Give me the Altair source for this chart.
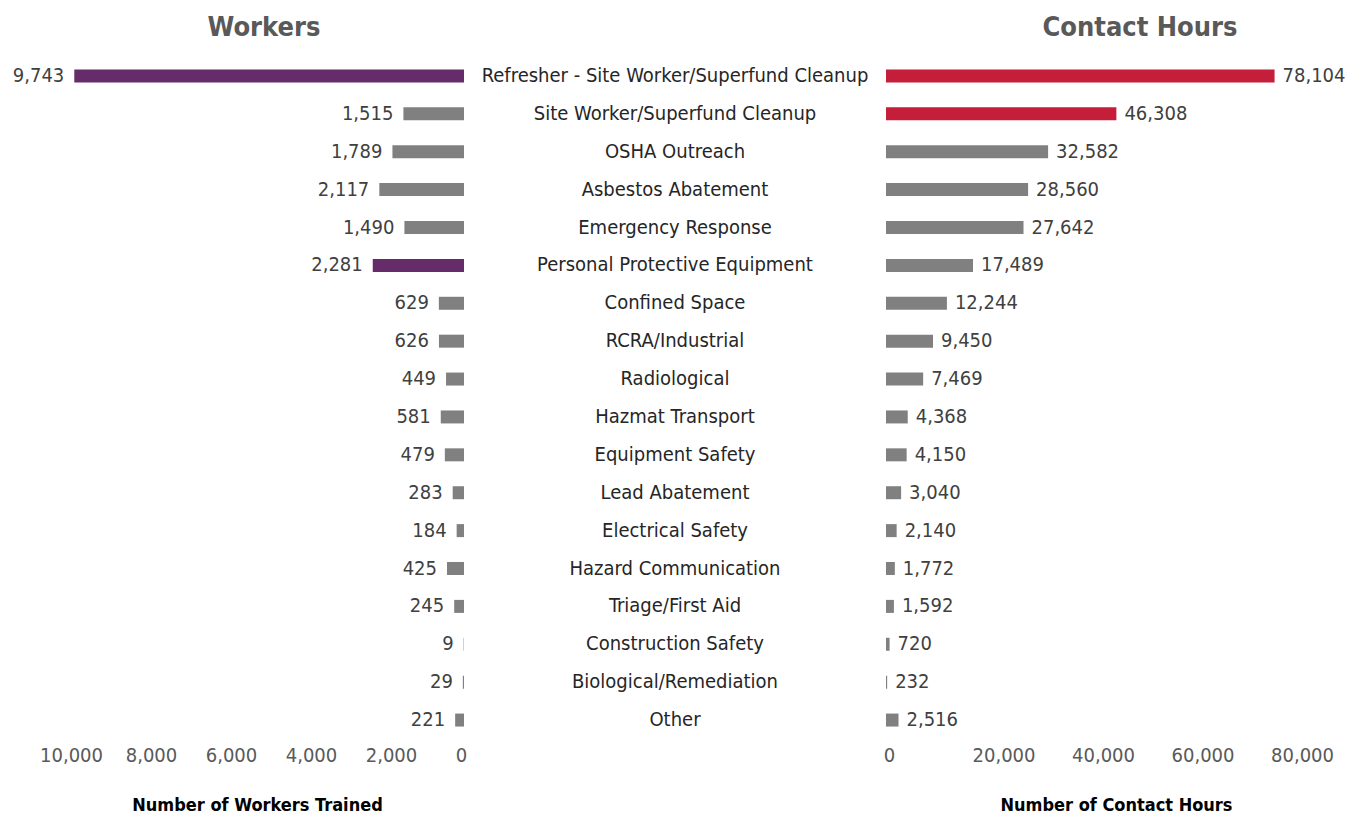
import altair as alt
import pandas as pd

categories = [
    "Refresher - Site Worker/Superfund Cleanup",
    "Site Worker/Superfund Cleanup",
    "OSHA Outreach",
    "Asbestos Abatement",
    "Emergency Response",
    "Personal Protective Equipment",
    "Confined Space",
    "RCRA/Industrial",
    "Radiological",
    "Hazmat Transport",
    "Equipment Safety",
    "Lead Abatement",
    "Electrical Safety",
    "Hazard Communication",
    "Triage/First Aid",
    "Construction Safety",
    "Biological/Remediation",
    "Other",
]
workers = [9743, 1515, 1789, 2117, 1490, 2281, 629, 626, 449, 581, 479, 283, 184, 425, 245, 9, 29, 221]
hours = [78104, 46308, 32582, 28560, 27642, 17489, 12244, 9450, 7469, 4368, 4150, 3040, 2140, 1772, 1592, 720, 232, 2516]
worker_highlight = ["yes", "no", "no", "no", "no", "yes"] + ["no"] * 12
hour_highlight = ["yes", "yes"] + ["no"] * 16
worker_ticks = [0, 2000, 4000, 6000, 8000, 10000]
hour_ticks = [0, 20000, 40000, 60000, 80000]

df = pd.DataFrame({
    "category": categories,
    "workers": workers,
    "hours": hours,
    "wh": worker_highlight,
    "hh": hour_highlight,
})

FONT = "DejaVu Sans Condensed"
FS = 20
H = 682
BAR = 13

yenc = alt.Y("category:N", sort=categories, axis=None)

left_base = alt.Chart(df).encode(
    y=yenc,
    x=alt.X(
        "workers:Q",
        scale=alt.Scale(domain=[0, 10000], reverse=True),
        axis=alt.Axis(
            values=worker_ticks, format=",.0f", grid=False, ticks=False, domain=False,
            labelOverlap=False, labelFlush=False,
            labelOffset={"condition": {"test": "datum.value == 0", "value": -3}, "value": 7},
            title="Number of Workers Trained", labelFont=FONT, labelFontSize=FS,
            labelColor="#595959", titleFont=FONT, titleFontSize=18, titleFontWeight="bold",
            titleColor="#000000", labelPadding=6, titlePadding=31, titleX=193,
        ),
    ),
)
left_bars = left_base.mark_bar(size=BAR).encode(
    color=alt.Color("wh:N", scale=alt.Scale(domain=["yes", "no"], range=["#662C69", "#808080"]), legend=None)
)
left_text = left_base.mark_text(align="right", dx=-10, font=FONT, fontSize=FS, color="#404040").encode(
    text=alt.Text("workers:Q", format=",")
)
left = (left_bars + left_text).properties(
    width=400, height=H,
    title=alt.TitleParams("Workers", font=FONT, fontSize=27, fontWeight="bold", color="#595959", anchor="middle", offset=15),
)

mid = alt.Chart(df).mark_text(align="center", font=FONT, fontSize=FS, color="#262626").encode(
    y=yenc, x=alt.value(211), text="category:N"
).properties(width=422, height=H)

right_base = alt.Chart(df).encode(
    y=yenc,
    x=alt.X(
        "hours:Q",
        scale=alt.Scale(domain=[0, 80000]),
        axis=alt.Axis(
            values=hour_ticks, format=",.0f", grid=False, ticks=False, domain=False,
            labelOverlap=False, labelFlush=False,
            labelOffset={"condition": {"test": "datum.value == 0", "value": 3}, "value": 18},
            title="Number of Contact Hours", labelFont=FONT, labelFontSize=FS,
            labelColor="#595959", titleFont=FONT, titleFontSize=18, titleFontWeight="bold",
            titleColor="#000000", labelPadding=6, titlePadding=31, titleX=230,
        ),
    ),
)
right_bars = right_base.mark_bar(size=BAR).encode(
    color=alt.Color("hh:N", scale=alt.Scale(domain=["yes", "no"], range=["#C41E3A", "#808080"]), legend=None)
)
right_text = right_base.mark_text(align="left", dx=8, font=FONT, fontSize=FS, color="#404040").encode(
    text=alt.Text("hours:Q", format=",")
)
right = (right_bars + right_text).properties(
    width=398, height=H,
    title=alt.TitleParams("Contact Hours", font=FONT, fontSize=27, fontWeight="bold", color="#595959", anchor="middle", offset=15, dx=55),
)

chart = (
    alt.hconcat(left, mid, right, spacing=0, bounds="flush")
    .resolve_scale(color="independent")
    .properties(padding={"left": 4, "top": 6, "right": 5, "bottom": 5})
    .configure_view(stroke=None)
)

chart.save("out.html", embed_options={"renderer": "svg", "actions": False})
